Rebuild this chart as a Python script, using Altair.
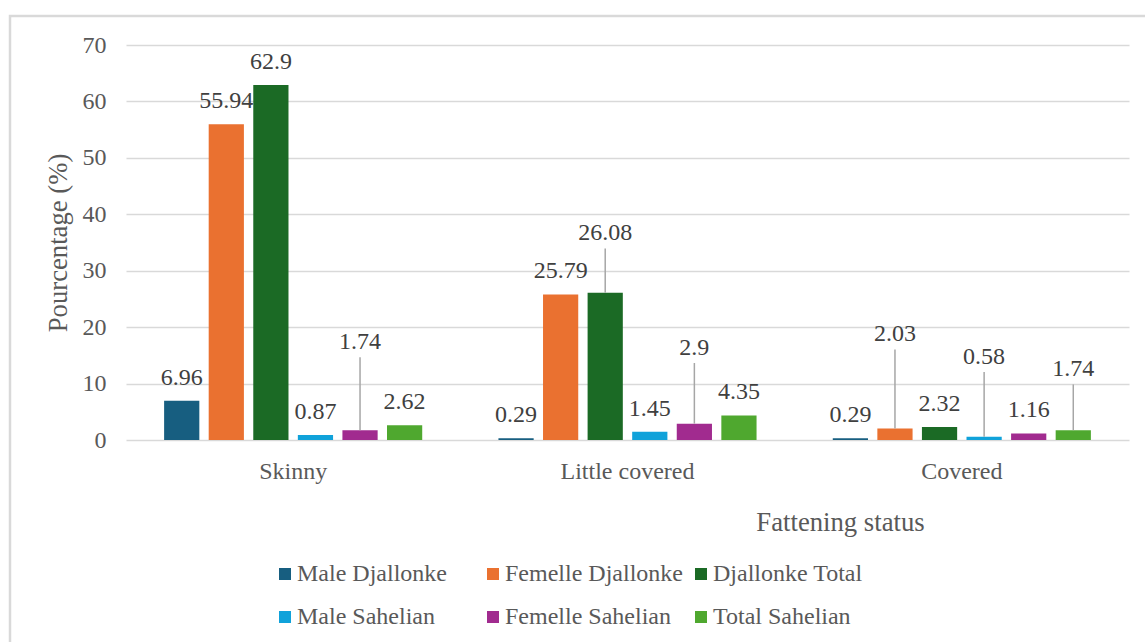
import altair as alt
import pandas as pd

# Fattening status by breed and sex (percent of animals)
categories = ["Skinny", "Little covered", "Covered"]
series = [
    "Male Djallonke",
    "Femelle Djallonke",
    "Djallonke Total",
    "Male Sahelian",
    "Femelle Sahelian",
    "Total Sahelian",
]
skinny = [6.96, 55.94, 62.9, 0.87, 1.74, 2.62]
little_covered = [0.29, 25.79, 26.08, 1.45, 2.9, 4.35]
covered = [0.29, 2.03, 2.32, 0.58, 1.16, 1.74]
values = [skinny, little_covered, covered]

colors = ["#175e80", "#ea7130", "#1b6a25", "#10a2da", "#a12b8f", "#4fa82f"]

# Labels that sit higher on a leader line (label baseline, in % units)
lifted_labels = {
    ("Skinny", "Femelle Sahelian"): 16.1,
    ("Little covered", "Djallonke Total"): 35.4,
    ("Little covered", "Femelle Sahelian"): 15.1,
    ("Covered", "Femelle Djallonke"): 17.5,
    ("Covered", "Male Sahelian"): 13.5,
    ("Covered", "Total Sahelian"): 11.3,
}
default_lift = 2.84   # label baseline above bar top
leader_gap = 1.45     # space between label baseline and leader top

rows = []
for cat, vals in zip(categories, values):
    for s, v in zip(series, vals):
        key = (cat, s)
        label_y = lifted_labels.get(key, v + default_lift)
        rows.append({
            "category": cat,
            "series": s,
            "value": v,
            "label": f"{v:g}",
            "label_y": label_y,
            "leader": key in lifted_labels,
            "leader_top": label_y - leader_gap,
        })
df = pd.DataFrame(rows)

FONT = "Liberation Serif"

x_enc = alt.X(
    "category:N",
    sort=categories,
    scale=alt.Scale(paddingInner=0.228, paddingOuter=0.114),
    axis=alt.Axis(
        title="Fattening status",
        labelAngle=0,
        labelFont=FONT,
        labelFontSize=24,
        labelColor="#595959",
        labelBaseline="alphabetic",
        labelPadding=38,
        ticks=False,
        tickSize=0,
        domain=False,
        titleFont=FONT,
        titleFontSize=26.7,
        titleFontWeight="normal",
        titleColor="#595959",
        titleX=714,
        titleY=90,
        titleAlign="center",
        titleBaseline="alphabetic",
    ),
)
xoff_enc = alt.XOffset(
    "series:N", sort=series, scale=alt.Scale(paddingInner=0.21, paddingOuter=0)
)
y_scale = alt.Scale(domain=[0, 70], nice=False)

base = alt.Chart(df)

bars = base.mark_bar().encode(
    x=x_enc,
    xOffset=xoff_enc,
    y=alt.Y(
        "value:Q",
        scale=y_scale,
        axis=alt.Axis(
            title="Pourcentage (%)",
            values=[0, 10, 20, 30, 40, 50, 60, 70],
            labelFont=FONT,
            labelFontSize=24,
            labelColor="#595959",
            labelPadding=20,
            labelBaseline="middle",
            ticks=False,
            tickSize=0,
            domain=False,
            grid=True,
            gridColor="#d9d9d9",
            gridWidth=1.4,
            titleFont=FONT,
            titleFontSize=26.7,
            titleFontWeight="normal",
            titleColor="#595959",
            titleAngle=270,
            titleX=-60,
            titleY=197.5,
            titleAlign="center",
            titleBaseline="alphabetic",
        ),
    ),
    color=alt.Color(
        "series:N",
        sort=series,
        scale=alt.Scale(domain=series, range=colors),
        legend=alt.Legend(
            title=None,
            orient="none",
            direction="horizontal",
            legendX=147,
            legendY=517,
            columns=3,
            gridAlign="all",
            columnPadding=6,
            rowPadding=19,
            symbolType="square",
            symbolSize=144,
            symbolStrokeWidth=0,
            labelFont=FONT,
            labelFontSize=24,
            labelColor="#595959",
            labelOffset=0,
            labelLimit=400,
        ),
    ),
)

leaders = base.transform_filter("datum.leader").mark_rule(
    color="#a6a6a6", strokeWidth=1.5
).encode(
    x=alt.X("category:N", sort=categories),
    xOffset=alt.XOffset("series:N", sort=series),
    y=alt.Y("value:Q", scale=y_scale),
    y2="leader_top:Q",
)

labels = base.mark_text(
    font=FONT, fontSize=24, color="#404040", baseline="alphabetic", align="center"
).encode(
    x=alt.X("category:N", sort=categories),
    xOffset=alt.XOffset("series:N", sort=series),
    y=alt.Y("label_y:Q", scale=y_scale),
    text="label:N",
)

frame = alt.Chart(alt.Data(values=[{}])).mark_rect(
    fill=None, stroke="#d9d9d9", strokeWidth=2.5
).encode(
    x=alt.value(-116),
    x2=alt.value(1040),
    y=alt.value(-29),
    y2=alt.value(640),
)

chart = (
    alt.layer(frame, bars, leaders, labels)
    .properties(
        width=1003,
        height=395,
        padding={"left": 126, "top": 45, "right": 16, "bottom": 202},
        autosize="none",
        background="white",
    )
    .configure_view(stroke=None)
)

chart.save("out.html", embed_options={"renderer": "svg", "actions": False})
